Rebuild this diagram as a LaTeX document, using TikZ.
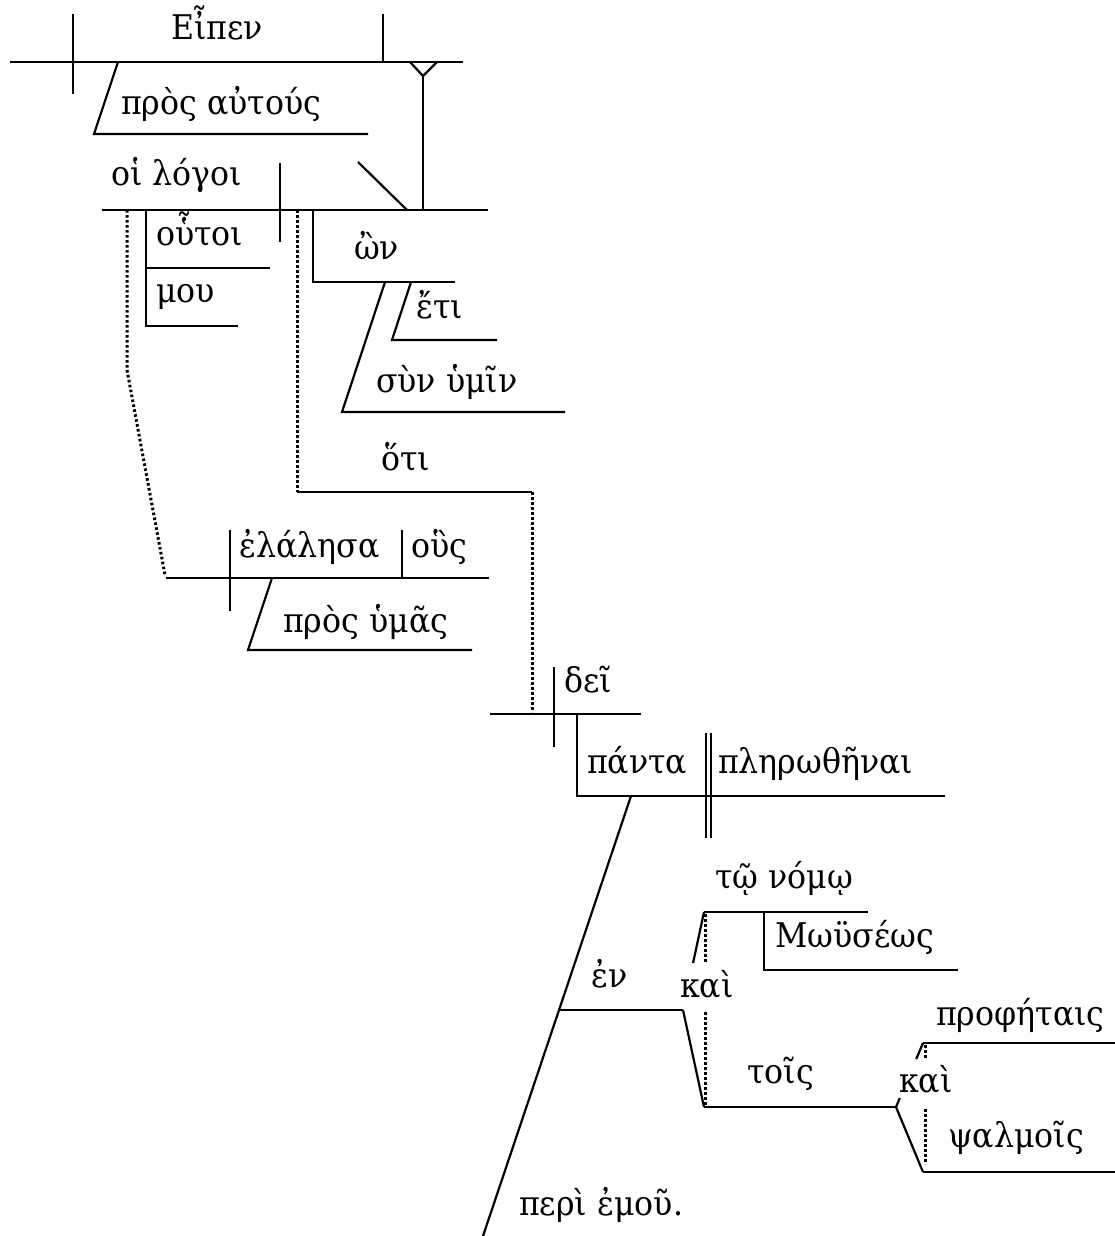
\documentclass[tikz,border=0pt]{standalone}
\usepackage{fontspec}
\newfontfamily\gkfont[FakeStretch=0.93]{DejaVu Serif}
\usetikzlibrary{calc}
\begin{document}
\begin{tikzpicture}[x=1pt,y=-1pt,line width=2.2pt,line cap=butt,
  dotln/.style={line width=3pt,dash pattern=on 2.6pt off 2.4pt},
  word/.style={anchor=base west,inner sep=0pt,font=\gkfont\fontsize{34}{40}\selectfont}]
\useasboundingbox (0,0) rectangle (1115,1236);

% ---------- main clause ----------
\coordinate (b1l) at (10,62);   \coordinate (b1r) at (463,62);
\coordinate (d1t) at (73,14);   \coordinate (d1b) at (73,94);
\coordinate (o1t) at (383,14);  \coordinate (o1b) at (383,62);
\draw (b1l) -- (b1r);
\draw (d1t) -- (d1b);
\draw (o1t) -- (o1b);
\node[word] (eipen) at (170,40) {Εἶπεν};
\coordinate (p1a) at (118,62); \coordinate (p1b) at (94,134); \coordinate (p1c) at (368,134);
\draw (p1a) -- (p1b) -- (p1c);
\node[word] (prosautous) at (120,115) {πρὸς αὐτούς};
% stilt fork
\coordinate (yl) at (410,62); \coordinate (yr) at (437,62);
\coordinate (ym) at (423,76); \coordinate (yb) at (423,210);
\draw (yl) -- (ym) -- (yr);
\draw (ym) -- (yb);

% ---------- object clause ----------
\coordinate (b2l) at (102,210); \coordinate (b2r) at (488,210);
\draw (b2l) -- (b2r);
\coordinate (d2t) at (280,163); \coordinate (d2b) at (280,242);
\draw (d2t) -- (d2b);
\coordinate (bs1) at (358,162); \coordinate (bs2) at (407,210);
\draw (bs1) -- (bs2);
\node[word] (logoi) at (110,185) {οἱ λόγοι};
% modifiers
\coordinate (m0) at (146,210); \coordinate (m1) at (146,268); \coordinate (m2) at (146,326);
\coordinate (m1r) at (270,268); \coordinate (m2r) at (238,326);
\draw (m0) -- (m2) -- (m2r);
\draw (m1) -- (m1r);
\node[word] (houtoi) at (155,245) {οὗτοι};
\node[word] (mou) at (155,302) {μου};
% participle
\coordinate (w0) at (313,210); \coordinate (w1) at (313,282); \coordinate (w2) at (455,282);
\draw (w0) -- (w1) -- (w2);
\node[word] (on) at (353,259) {ὢν};
\coordinate (e0) at (411,282); \coordinate (e1) at (392,340); \coordinate (e2) at (497,340);
\draw (e0) -- (e1) -- (e2);
\node[word] (eti) at (415,318) {ἔτι};
\coordinate (s0) at (385,282); \coordinate (s1) at (342,412); \coordinate (s2) at (565,412);
\draw (s0) -- (s1) -- (s2);
\node[word] (syn) at (375,392) {σὺν ὑμῖν};

% ---------- dotted connectors ----------
\coordinate (r0) at (127,210); \coordinate (r1) at (127,370); \coordinate (r2) at (165,575);
\draw[dotln] (r0) -- (r1) -- (r2);
\coordinate (h0) at (297,210); \coordinate (h1) at (297,492);
\coordinate (h2) at (532,492); \coordinate (h3) at (532,712);
\draw[dotln] (h0) -- (h1);
\draw (h1) -- (h2);
\draw[dotln] (h2) -- (h3);
\node[word] (hoti) at (380,470) {ὅτι};

% ---------- relative clause ----------
\coordinate (b3l) at (166,578); \coordinate (b3r) at (489,578);
\draw (b3l) -- (b3r);
\coordinate (d3t) at (230,530); \coordinate (d3b) at (230,611);
\draw (d3t) -- (d3b);
\coordinate (o3t) at (402,530); \coordinate (o3b) at (402,578);
\draw (o3t) -- (o3b);
\node[word] (elalesa) at (238,557) {ἐλάλησα};
\node[word] (hous) at (410,557) {οὓς};
\coordinate (p3a) at (272,578); \coordinate (p3b) at (248,650); \coordinate (p3c) at (472,650);
\draw (p3a) -- (p3b) -- (p3c);
\node[word] (prosymas) at (282,632) {πρὸς ὑμᾶς};

% ---------- dei clause ----------
\coordinate (b4l) at (490,714); \coordinate (b4r) at (641,714);
\draw (b4l) -- (b4r);
\coordinate (d4t) at (554,667); \coordinate (d4b) at (554,747);
\draw (d4t) -- (d4b);
\node[word] (dei) at (563,692) {δεῖ};
\coordinate (st0) at (577,714); \coordinate (st1) at (577,796); \coordinate (st2) at (945,796);
\draw (st0) -- (st1) -- (st2);
\node[word] (panta) at (586,773) {πάντα};
\node[word] (plero) at (717,773) {πληρωθῆναι};
\draw (706,733) -- (706,838);
\draw (711,733) -- (711,838);
\coordinate (ls0) at (631,796); \coordinate (ls1) at (483,1236);
\draw (ls0) -- (ls1);
\node[word] (peri) at (518,1215) {περὶ ἐμοῦ.};

% ---------- en phrase ----------
\coordinate (en0) at (559,1010); \coordinate (f1) at (683,1010);
\draw (en0) -- (f1);
\node[word] (en) at (590,987) {ἐν};
\coordinate (u1) at (704,912); \coordinate (l1) at (704,1107);
\draw (f1) -- (l1);
\draw ($(f1)!0.48!(u1)$) -- (u1);
\coordinate (u1r) at (868,912);
\draw (u1) -- (u1r);
\node[word] (nomo) at (714,888) {τῷ νόμῳ};
\coordinate (mw0) at (764,912); \coordinate (mw1) at (764,970); \coordinate (mw2) at (958,970);
\draw (mw0) -- (mw1) -- (mw2);
\node[word] (moyseos) at (774,947) {Μωϋσέως};
\node[word] (kai1) at (679,997) {καὶ};
\draw[dotln] (705,914) -- (705,963);
\draw[dotln] (705,1012) -- (705,1107);
\coordinate (f2) at (896,1107);
\draw (l1) -- (f2);
\node[word] (tois) at (746,1083) {τοῖς};
\coordinate (u2) at (923,1043); \coordinate (l2) at (923,1172);
\draw (f2) -- ($(f2)!0.14!(u2)$);
\draw ($(f2)!0.75!(u2)$) -- (u2);
\draw (f2) -- (l2);
\coordinate (u2r) at (1115,1043); \coordinate (l2r) at (1115,1172);
\draw (u2) -- (u2r);
\draw (l2) -- (l2r);
\node[word] (proph) at (935,1025) {προφήταις};
\node[word] (psalm) at (947,1147) {ψαλμοῖς};
\node[word] (kai2) at (898,1092) {καὶ};
\draw[dotln] (925,1045) -- (925,1058);
\draw[dotln] (925,1109) -- (925,1164);
\end{tikzpicture}
\end{document}
